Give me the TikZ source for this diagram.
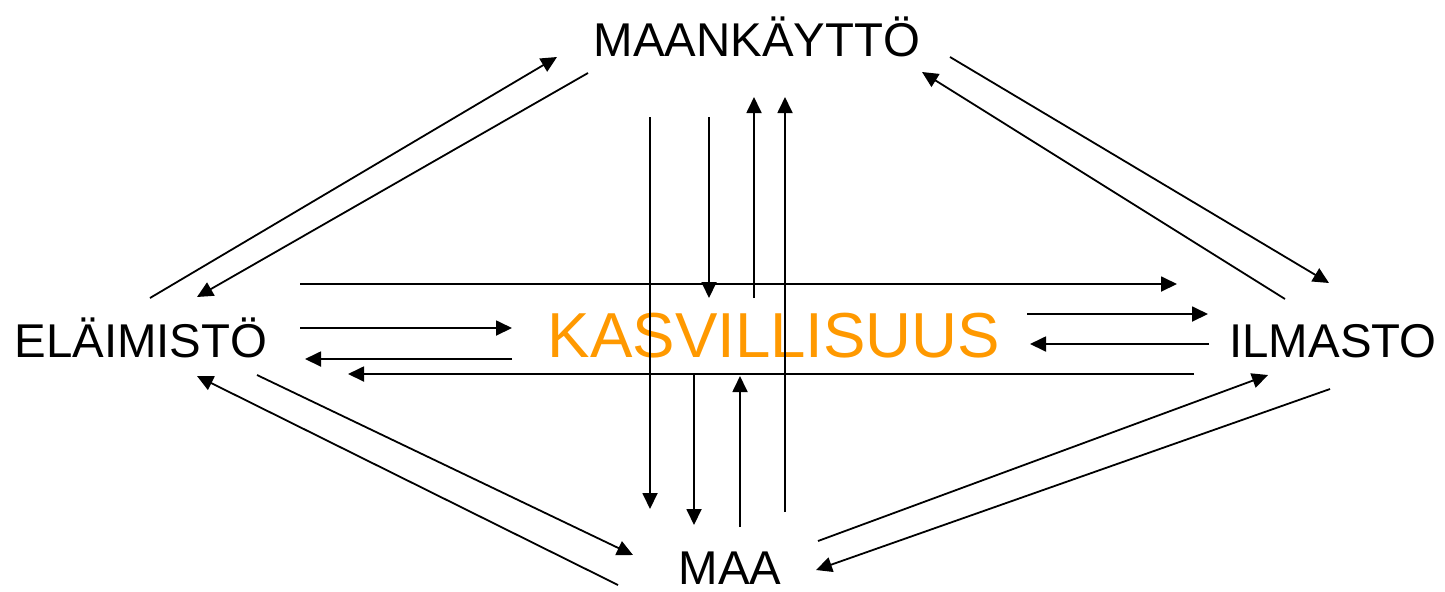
\documentclass[tikz,border=0pt]{standalone}
\usepackage{fontspec}
\setmainfont{Liberation Sans}
\usetikzlibrary{arrows.meta}
\definecolor{kasvorange}{RGB}{255,153,0}

\begin{document}
\begin{tikzpicture}[x=0.5pt, y=-0.5pt, >={Triangle[length=8pt,width=7.5pt]},
  line width=0.9pt,
  term/.style={anchor=base, inner sep=0pt, font=\fontsize{23.7pt}{28pt}\selectfont},
  centre/.style={anchor=base, inner sep=0pt, text=kasvorange, font=\fontsize{31.8pt}{38pt}\selectfont}]
\useasboundingbox (0,0) rectangle (1445,591);
% terms
\node[term] (maank) at (757,56) {MAANKÄYTTÖ};
\node[term] (elaim) at (141,357) {ELÄIMISTÖ};
\node[term] (ilm) at (1333,357) {ILMASTO};
\node[term] (maa) at (730,584) {MAA};
\node[centre] (kasv) at (774,357) {KASVILLISUUS};
% diagonal arrows
\foreach \n/\xa/\ya/\xb/\yb in {em/150/298/557/57, me/588/73/197/297,
    mi/950/57/1329/283, im/1285/299/922/72,
    ea/257/375/633/555, ae/618/585/197/376,
    ai/818/541/1268/375, ia/1330/389/816/570}{
  \coordinate (\n s) at (\xa,\ya);
  \coordinate (\n e) at (\xb,\yb);
  \draw[->] (\n s) -- (\n e);
}
% horizontal arrows
\foreach \n/\xa/\xb/\y in {ei/300/1177/284, ek/300/512/328, ke/512/305/359,
    ie/1194/348/374, ki/1027/1208/314, ik/1209/1030/344}{
  \coordinate (\n s) at (\xa,\y);
  \coordinate (\n e) at (\xb,\y);
  \draw[->] (\n s) -- (\n e);
}
% vertical arrows
\foreach \n/\x/\ya/\yb in {ma/650/117/509, mk/709/117/298, km/754/298/97,
    am/785/512/97, ka/694/374/525, ak/740/527/376}{
  \coordinate (\n s) at (\x,\ya);
  \coordinate (\n e) at (\x,\yb);
  \draw[->] (\n s) -- (\n e);
}
\end{tikzpicture}
\end{document}
